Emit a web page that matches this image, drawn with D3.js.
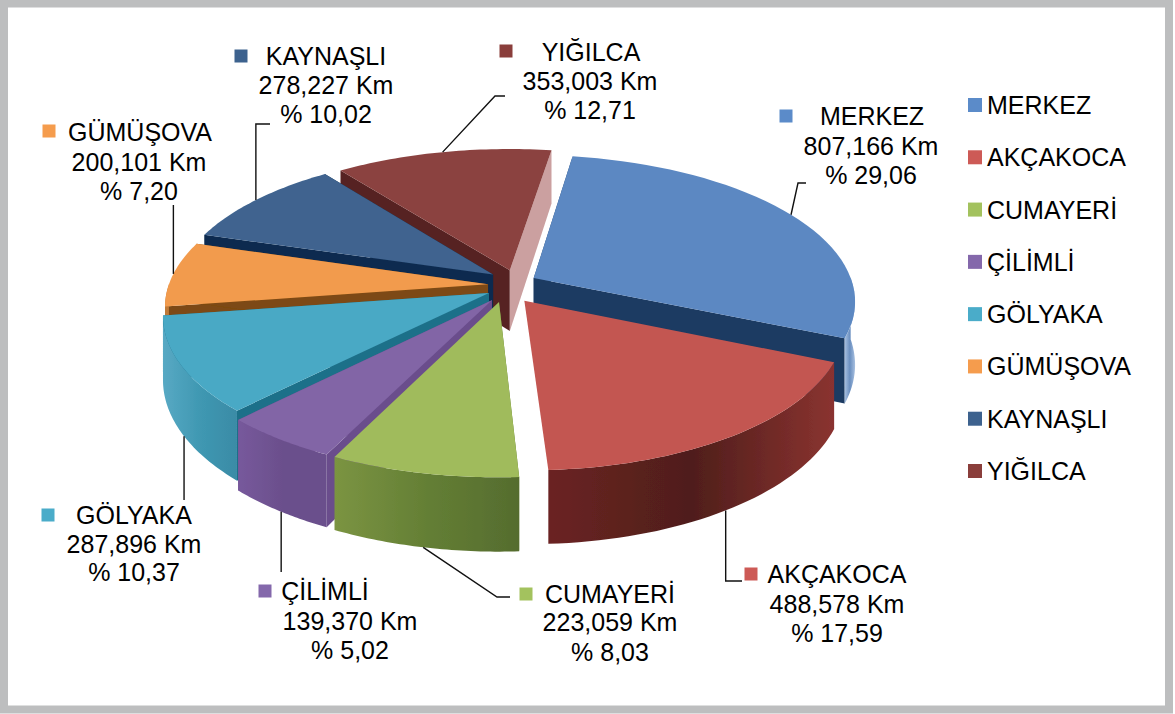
<!DOCTYPE html>
<html>
<head>
<meta charset="utf-8">
<script src="https://cdn.jsdelivr.net/npm/d3@7"></script>
<style>
  body { margin: 0; background: #fff; }
  svg { display: block; }
  text { font-family: "Liberation Sans", Arial, sans-serif; font-size: 25px; fill: #000; }
</style>
</head>
<body>
<div id="chart"></div>
<script>
const names = ["MERKEZ", "AKÇAKOCA", "CUMAYERİ", "ÇİLİMLİ", "GÖLYAKA", "GÜMÜŞOVA", "KAYNAŞLI", "YIĞILCA"]
const km = [807.166, 488.578, 223.059, 139.370, 287.896, 200.101, 278.227, 353.003]
const kmLabels = ["807,166 Km", "488,578 Km", "223,059 Km", "139,370 Km", "287,896 Km", "200,101 Km", "278,227 Km", "353,003 Km"]
const pctLabels = ["% 29,06", "% 17,59", "% 8,03", "% 5,02", "% 10,37", "% 7,20", "% 10,02", "% 12,71"]

const topColors = ["#5c88c2", "#c35651", "#a0bb5b", "#8265a6", "#49a9c5", "#f29b4e", "#3f648f", "#8b4341"]
const markColors = ["#5b8bc9", "#cd5a56", "#a3c25e", "#8468ab", "#4aacc9", "#f59c4d", "#3d628e", "#8a3e3b"]
const startFaces = ["#24466f", null, "#5f7a32", "#6a4d8c", "#1f7089", "#7d4a12", "#0f2b50", "#562322"]
const endFaces = ["#1b3a62", null, null, "#6a4d8c", "#1f7089", "#7d4a12", "#0f2b50", "#cba0a0"]
const wallStops = [
  ["#a8c0e0", "#6a8fc0", "#a8c0e0"],
  ["#6b2422", "#4f1e1b", "#8a3330"],
  ["#7b9442", "#647f35", "#556c2e"],
  ["#77599c", "#6b4f8c", "#6b4f8c"],
  ["#58a9c4", "#3f98b2", "#3a8ba6"],
  ["#c07a38", "#c07a38", "#c07a38"],
  ["#2c4a70", "#2c4a70", "#2c4a70"],
  ["#6d2f2e", "#6d2f2e", "#6d2f2e"]
]

// how far each slice is pulled out of the pie, on the ground plane
const explodeX = [34, 24, -1, -8, -11, -12, -7, 10]
const explodeZ = [20, -30, -33, -29, -13, 6, 28, 38]
// akcakoca is drawn a bit smaller in the original
const radiusScale = [1, 0.975, 1, 1, 1, 1, 1, 1]
// small turn (degrees) of where each leader meets its slice
const leaderTurn = [0, 1.5, 0, -0.5, -1.5, 0, 0, 0]

// where each data label sits: marker, centre x of its lines, baselines, leader points
// a leader point with null x drops straight from the slice
const labelLayout = [
  { mx: 786, my: 116, nameX: 872, midX: 871, y: [125, 155, 184], leader: [[798, 183], [806, 183]] },
  { mx: 751, my: 574, nameX: 837, midX: 837, y: [583, 613, 642], leader: [[null, 581], [742, 581]] },
  { mx: 526, my: 594, nameX: 610, midX: 610, y: [603, 631, 661], leader: [[497, 597], [510, 597]] },
  { mx: 265, my: 591, nameX: 325, midX: 350, y: [600, 630, 659], leader: [[null, 572]] },
  { mx: 48, my: 515, nameX: 134, midX: 134, y: [524, 553, 581], leader: [[null, 500]] },
  { mx: 49, my: 131, nameX: 140, midX: 139, y: [141, 171, 200], leader: [[null, 205]] },
  { mx: 241, my: 56, nameX: 326, midX: 326, y: [65, 94, 123], leader: [[null, 124], [270, 124]] },
  { mx: 506, my: 51, nameX: 591, midX: 590, y: [61, 90, 119], leader: [[495, 96], [505, 96]] }
]

const width = 1175
const height = 714
const cx = 500
const cy = 287
const R = 320
const tilt = 0.45
const persp = 0.15
const depth = 62

const svg = d3.select("#chart").append("svg")
  .attr("width", width)
  .attr("height", height)

svg.append("rect")
  .attr("x", 4).attr("y", 3.5)
  .attr("width", 1165).attr("height", 706)
  .attr("fill", "#fff")
  .attr("stroke", "#bdbebf")
  .attr("stroke-width", 8)

const defs = svg.append("defs")
defs.append("filter").attr("id", "soft")
  .append("feGaussianBlur").attr("stdDeviation", 0.7)

// ground plane (X right, Z away from viewer) to screen
const project = (X, Z, down = 0) => {
  const s = 1 / (1 + persp * Z / R)
  return [cx + X * s, cy - Z * tilt * s + down * s]
}

const slices = d3.pie().sort(null)
  .startAngle(9 * Math.PI / 180)
  .endAngle(369 * Math.PI / 180)(km)
  .map((d, i) => {
    const mid = (d.startAngle + d.endAngle) / 2
    return { ...d, i, mid, ox: explodeX[i], oz: explodeZ[i], r: R * radiusScale[i] }
  })

const rim = (d, a, down = 0) =>
  project(d.ox + d.r * Math.sin(a), d.oz + d.r * Math.cos(a), down)

const line = d3.line()
const sweep = (a0, a1) => d3.range(0, 41).map(k => a0 + (a1 - a0) * k / 40)

const pie = svg.append("g").attr("filter", "url(#soft)")

// back slices first
slices.slice().sort((a, b) => Math.cos(b.mid) - Math.cos(a.mid)).forEach(d => {
  const g = pie.append("g")
  const apex = project(d.ox, d.oz)
  const apexLow = project(d.ox, d.oz, depth)

  if (startFaces[d.i]) {
    g.append("path")
      .attr("d", line([apex, rim(d, d.startAngle), rim(d, d.startAngle, depth), apexLow]) + "Z")
      .attr("fill", startFaces[d.i])
  }
  if (endFaces[d.i]) {
    g.append("path")
      .attr("d", line([apex, rim(d, d.endAngle), rim(d, d.endAngle, depth), apexLow]) + "Z")
      .attr("fill", endFaces[d.i])
  }

  // outer wall only where it faces the viewer
  const a0 = Math.max(d.startAngle, Math.PI / 2)
  const a1 = Math.min(d.endAngle, 3 * Math.PI / 2)
  if (a1 > a0) {
    const angles = sweep(a0, a1)
    const upper = angles.map(a => rim(d, a))
    const lower = angles.map(a => rim(d, a, depth)).reverse()
    const xr = d3.extent(upper.concat(lower), p => p[0])
    const gradId = "wall" + d.i
    const grad = defs.append("linearGradient").attr("id", gradId)
      .attr("gradientUnits", "userSpaceOnUse")
      .attr("x1", xr[0]).attr("x2", xr[1]).attr("y1", 0).attr("y2", 0)
    wallStops[d.i].forEach((c, k) => {
      grad.append("stop").attr("offset", k / 2).attr("stop-color", c)
    })
    g.append("path")
      .attr("d", line(upper.concat(lower)) + "Z")
      .attr("fill", `url(#${gradId})`)
  }

  g.append("path")
    .attr("d", line([apex].concat(sweep(d.startAngle, d.endAngle).map(a => rim(d, a)))) + "Z")
    .attr("fill", topColors[d.i])
})

// data labels
const labels = svg.append("g")
slices.forEach(d => {
  const l = labelLayout[d.i]
  const front = Math.cos(d.mid) < -0.1
  const start = rim(d, d.mid + leaderTurn[d.i] * Math.PI / 180, front ? depth : 0)
  const points = l.leader.map(p => [p[0] === null ? start[0] : p[0], p[1]])
  labels.append("path")
    .attr("d", line([start].concat(points)))
    .attr("fill", "none")
    .attr("stroke", "#111")
    .attr("stroke-width", 1.4)
  labels.append("rect")
    .attr("x", l.mx - 6.5).attr("y", l.my - 6.5)
    .attr("width", 13).attr("height", 13)
    .attr("fill", markColors[d.i])
  const texts = [[names[d.i], l.nameX], [kmLabels[d.i], l.midX], [pctLabels[d.i], l.midX]]
  texts.forEach((t, k) => {
    labels.append("text")
      .attr("x", t[1]).attr("y", l.y[k])
      .attr("text-anchor", "middle")
      .text(t[0])
  })
})

// legend
const legendY = d3.scalePoint().domain(names).range([105, 471])
const legend = svg.append("g").selectAll("g").data(names).join("g")
  .attr("transform", d => `translate(0,${legendY(d)})`)
legend.append("rect")
  .attr("x", 968).attr("y", -7)
  .attr("width", 14).attr("height", 14)
  .attr("fill", (d, i) => markColors[i])
legend.append("text")
  .attr("x", 987).attr("y", 9)
  .text(d => d)
</script>
</body>
</html>
